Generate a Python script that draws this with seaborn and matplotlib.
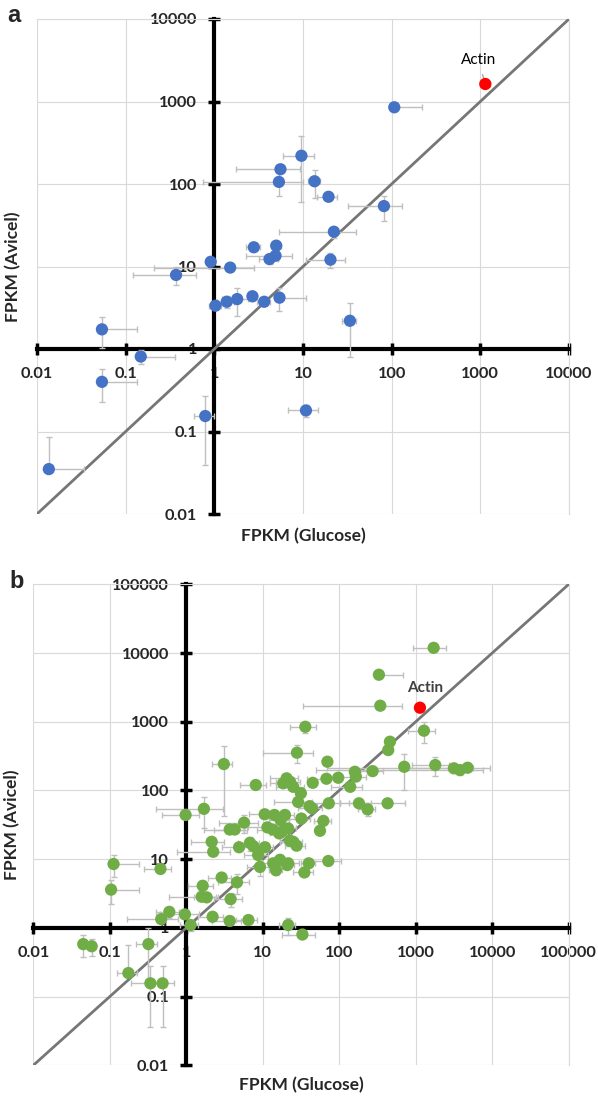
import matplotlib
matplotlib.use("Agg")
import matplotlib.pyplot as plt
import numpy as np
import pandas as pd
import seaborn as sns
from matplotlib.ticker import FixedLocator, FixedFormatter, NullLocator

# ---- panel a ----
a_glucose = [9.6, 5.57, 5.35, 13.5, 19.4, 81.8, 107, 22.3, 20.4, 4.99,
             4.9, 4.19, 2.79, 0.91, 1.51, 0.37, 1.03, 1.38, 1.81, 2.69,
             3.65, 5.43, 0.054, 0.148, 0.054, 0.79, 0.0136, 33.8, 10.8]
a_avicel = [220, 151, 106, 108, 70, 54, 851, 26.4, 12.1, 17.9,
            13.5, 12.3, 17.1, 11.4, 9.7, 7.9, 3.35, 3.74, 4.03, 4.36,
            3.74, 4.19, 1.73, 0.81, 0.40, 0.154, 0.035, 2.2, 0.18]
a_glucose_err = [3.6, 3.8, 4.6, 2, 5, 50, 113, 17, 9.5, 0.6,
                 2.6, 1, 0.5, 0, 1.3, 0.25, 0.15, 0.3, 0.6, 0.3,
                 0.6, 5.5, 0.08, 0.21, 0.08, 0.2, 0.02, 6, 4]
a_avicel_err = [160, 10, 34, 40, 0, 18, 0, 4, 2.5, 1,
                1, 1.5, 1.5, 0, 1, 2, 0, 0.6, 1.5, 0.5,
                0.4, 1.3, 0.7, 0.15, 0.17, 0.115, 0.05, 1.4, 0.03]
a_actin = [1138, 1630, 150, 0]

# ---- panel b ----
b_glucose = [1715, 330, 344, 1280, 36, 28, 460, 437, 70, 708,
             1800, 3155, 3780, 4770, 273, 160, 165, 97, 68, 45,
             139, 31.5, 29, 181, 235, 429, 41, 73, 56, 62,
             40, 72, 35, 21.5, 21.5, 33, 8.1, 0.98, 1.70, 18.5,
             22.7, 10.6, 14.2, 19.5, 17.1, 5.7, 3.7, 4.3, 11.5, 13.5,
             16.4, 22.7, 27.7, 2.15, 2.25, 4.9, 6.8, 7.5, 10.7, 8.7,
             9.2, 13.7, 14.9, 20.9, 0.46, 2.9, 1.64, 4.6, 1.59, 1.85,
             3.8, 0.60, 0.47, 0.96, 1.14, 2.21, 3.7, 6.5, 0.32, 0.34,
             0.49, 0.112, 0.104, 0.045, 0.058, 0.175, 3.1, 20.5, 25, 32,
             44, 17.7, 21.5, 25, 16.8]
b_avicel = [11900, 4830, 1710, 740, 845, 354, 512, 387, 262, 221,
            234, 210, 198, 214, 191, 187, 159, 153, 148, 129,
            113, 91, 68, 65, 53, 65, 59, 65, 25.9, 36,
            8.7, 9.4, 6.4, 8.7, 1.1, 0.80, 120, 44, 54, 127,
            134, 45, 44, 44, 37, 34, 27, 27, 29, 27,
            23.7, 18.5, 15.7, 17.9, 12.8, 14.9, 17.3, 15.5, 14.9, 11.5,
            7.7, 8.7, 6.9, 8.2, 7.2, 5.4, 4.1, 4.6, 2.84, 2.78,
            2.62, 1.71, 1.34, 1.57, 1.1, 1.45, 1.26, 1.3, 0.58, 0.156,
            0.156, 8.5, 3.6, 0.58, 0.54, 0.22, 242, 150, 113, 39,
            55, 25, 28, 17.9, 9.8]
b_glucose_err = [800, 357, 310, 480, 13, 18, 0, 0, 0, 0,
                 900, 2500, 3730, 4700, 100, 0, 60, 0, 30, 0,
                 60, 0, 15, 80, 60, 293, 10, 30, 0, 15,
                 8, 35, 10, 8, 5, 15, 3, 0.5, 1.3, 6,
                 8, 4, 5, 6, 5, 3, 2, 2, 5, 5,
                 4, 6, 8, 1, 1.5, 2, 2, 2, 3, 3,
                 3, 4, 3, 5, 0.18, 1, 0.6, 2, 1, 0.6,
                 1.5, 0.2, 0.3, 0.5, 0.3, 0.8, 1.5, 2, 0.1, 0.15,
                 0.2, 0.13, 0.14, 0, 0, 0.05, 0.9, 8, 10, 10,
                 15, 5, 6, 8, 5]
b_avicel_err = [0, 0, 0, 250, 150, 100, 0, 0, 0, 120,
                70, 0, 30, 0, 0, 0, 0, 0, 0, 0,
                0, 0, 0, 0, 10, 0, 0, 0, 0, 0,
                0, 0, 0, 1, 0.3, 0, 0, 0, 26, 0,
                0, 0, 0, 0, 8, 10, 0, 0, 0, 0,
                0, 3, 0, 0, 0, 0, 4, 0, 0, 3,
                2, 0, 1, 0, 0, 0, 0, 1.5, 0, 0,
                0.6, 0.3, 0, 0, 0.2, 0, 0, 0, 0.4, 0.12,
                0.12, 3, 1.4, 0.2, 0.15, 0.35, 200, 0, 0, 0,
                0, 0, 0, 0, 0]
b_actin = [1135, 1600, 0, 0]

a_ticks = [0.01, 0.1, 1, 10, 100, 1000, 10000]
a_tick_labels = ["0.01", "0.1", "1", "10", "100", "1000", "10000"]
b_ticks = [0.01, 0.1, 1, 10, 100, 1000, 10000, 100000]
b_tick_labels = ["0.01", "0.1", "1", "10", "100", "1000", "10000", "100000"]

sns.set_theme(style="white")
plt.rcParams["font.family"] = ["Lato", "DejaVu Sans"]

GRID = "#d9d9d9"
ERR = "#bfbfbf"


def err_pair(vals, errs):
    vals = np.asarray(vals, float)
    errs = np.asarray(errs, float)
    lower = np.where(errs < vals, errs, 0)
    return np.vstack([lower, errs])


def draw_panel(ax, gx, gy, gxe, gye, actin, ticks, labels, color):
    df = pd.DataFrame({"glucose": gx, "avicel": gy})
    ax.set_xscale("log")
    ax.set_yscale("log")
    ax.set_xlim(ticks[0], ticks[-1])
    ax.set_ylim(ticks[0], ticks[-1])

    ax.errorbar(gx, gy, xerr=err_pair(gx, gxe), yerr=err_pair(gy, gye),
                fmt="none", ecolor=ERR, elinewidth=1.0, capsize=2.5,
                capthick=1.0, zorder=3)
    ax.errorbar([actin[0]], [actin[1]], xerr=err_pair([actin[0]], [actin[2]]),
                fmt="none", ecolor=ERR, elinewidth=1.0, capsize=2.5,
                capthick=1.0, zorder=3)
    sns.lineplot(x=[ticks[0], ticks[-1]], y=[ticks[0], ticks[-1]], ax=ax,
                 color="#767676", linewidth=2.0, zorder=2.8)
    sns.scatterplot(data=df, x="glucose", y="avicel", ax=ax, color=color,
                    s=78, edgecolor="none", linewidth=0, zorder=4)
    sns.scatterplot(x=[actin[0]], y=[actin[1]], ax=ax, color="#ff0000",
                    s=78, edgecolor="none", linewidth=0, zorder=5)

    for axis in (ax.xaxis, ax.yaxis):
        axis.set_major_locator(FixedLocator(ticks))
        axis.set_major_formatter(FixedFormatter(labels))
        axis.set_minor_locator(NullLocator())
    ax.grid(True, color=GRID, linewidth=0.8, zorder=0)
    ax.set_axisbelow(True)

    ax.spines["left"].set_position(("data", 1))
    ax.spines["bottom"].set_position(("data", 1))
    for s in ("left", "bottom"):
        ax.spines[s].set_color("black")
        ax.spines[s].set_linewidth(3)
        ax.spines[s].set_zorder(2.5)
    for s in ("top", "right"):
        ax.spines[s].set_color(GRID)
        ax.spines[s].set_linewidth(0.8)
    ax.tick_params(axis="both", which="major", direction="inout", length=8.5,
                   width=2.5, color="black", labelsize=11.8,
                   bottom=True, left=True)
    ax.tick_params(axis="y", pad=8)
    ax.tick_params(axis="x", pad=9)
    for lab in ax.get_xticklabels() + ax.get_yticklabels():
        lab.set_fontweight("bold")
    ax.set_xlabel("FPKM (Glucose)", fontsize=12.5, fontweight="bold")
    ax.set_ylabel("FPKM (Avicel)", fontsize=12.5, fontweight="bold")
    ax.xaxis.label.set_va("center")
    ax.yaxis.label.set_va("center")
    ax.set_facecolor("white")


fig = plt.figure(figsize=(5.98, 11.01), dpi=100)
fig.patch.set_facecolor("white")

ax_a = fig.add_axes([37 / 598, 1 - 514 / 1101, 532 / 598, 495 / 1101])
draw_panel(ax_a, a_glucose, a_avicel, a_glucose_err, a_avicel_err, a_actin,
           a_ticks, a_tick_labels, "#4472c4")
ax_a.xaxis.set_label_coords(0.5, -0.045)
ax_a.yaxis.set_label_coords(-0.045, 0.5)
ax_a.annotate("Actin", xy=(a_actin[0], a_actin[1]), xytext=(-5, 17),
              textcoords="offset points", ha="center", va="center",
              fontsize=11, color="black",
              arrowprops=dict(arrowstyle="-", color="#a6a6a6", lw=1,
                              shrinkA=3, shrinkB=1))

ax_b = fig.add_axes([33.3 / 598, 1 - 1065.3 / 1101, 535.4 / 598, 481 / 1101])
draw_panel(ax_b, b_glucose, b_avicel, b_glucose_err, b_avicel_err, b_actin,
           b_ticks, b_tick_labels, "#70ad47")
ax_b.xaxis.set_label_coords(0.5, -0.042)
ax_b.yaxis.set_label_coords(-0.04, 0.5)
ax_b.annotate("Actin", xy=(b_actin[0], b_actin[1]), xytext=(4, 14),
              textcoords="offset points", ha="center", va="center",
              fontsize=11, fontweight="bold", color="#404040")

fig.text(14 / 598, 1 - 16 / 1101, "a", fontsize=17, fontweight="bold",
         ha="center", va="center", family=["Liberation Sans", "DejaVu Sans"])
fig.text(17 / 598, 1 - 582 / 1101, "b", fontsize=17, fontweight="bold",
         ha="center", va="center", family=["Liberation Sans", "DejaVu Sans"])

fig.savefig("out.png", dpi=100, facecolor="white")
